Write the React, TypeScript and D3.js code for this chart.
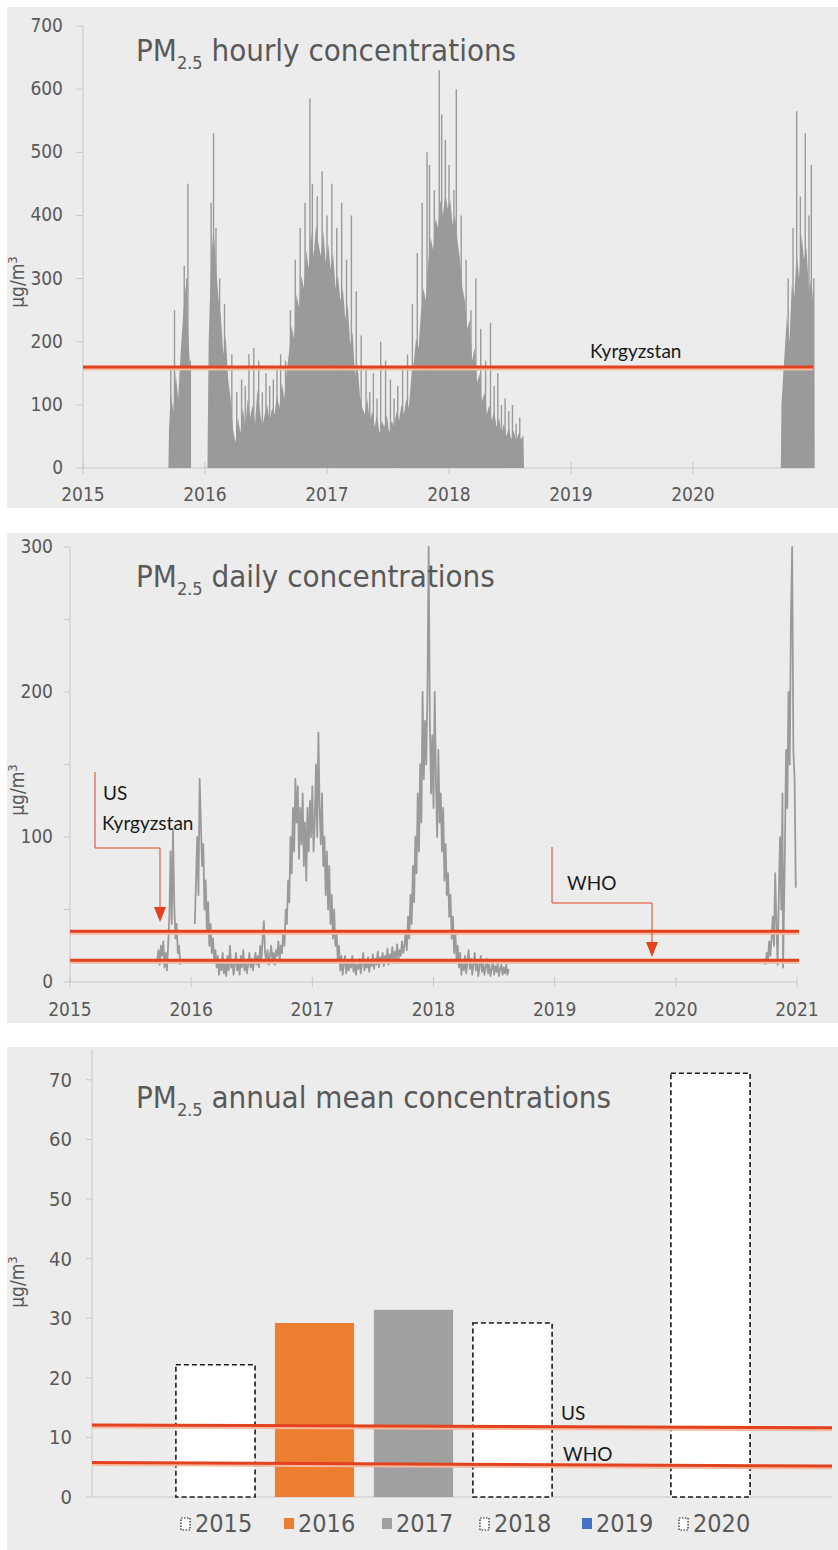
import React from 'react';
import * as d3 from 'd3';

// ---------------- DATA ----------------
const yearTicks = [2015, 2016, 2017, 2018, 2019, 2020, 2021];
const hourlyTicks = [0, 100, 200, 300, 400, 500, 600, 700];
const dailyTicks = [0, 50, 100, 150, 200, 250, 300];
const dailyLabelTicks = [0, 100, 200, 300];
const annualTicks = [0, 10, 20, 30, 40, 50, 60, 70];

// hourly PM2.5: dense core envelope per data block [decimal year, µg/m3]
const hourlyCore2015: [number, number][] = [
  [2015.70, 0], [2015.705, 60], [2015.72, 120], [2015.74, 90], [2015.76, 150], [2015.78, 110],
  [2015.80, 180], [2015.82, 240], [2015.84, 290], [2015.86, 220], [2015.88, 150], [2015.885, 0],
];
const hourlyCore2016to2018: [number, number][] = [
  [2016.02, 0], [2016.03, 200], [2016.05, 330], [2016.07, 380], [2016.09, 320], [2016.11, 270],
  [2016.13, 240], [2016.15, 180], [2016.17, 210], [2016.19, 140], [2016.21, 110], [2016.23, 60],
  [2016.25, 40], [2016.27, 80], [2016.29, 55], [2016.31, 95], [2016.33, 65], [2016.35, 110],
  [2016.37, 80], [2016.39, 100], [2016.41, 70], [2016.43, 125], [2016.45, 90], [2016.47, 65],
  [2016.49, 85], [2016.51, 100], [2016.53, 75], [2016.55, 95], [2016.57, 85], [2016.59, 115],
  [2016.61, 95], [2016.63, 135], [2016.65, 110], [2016.67, 155], [2016.69, 185], [2016.71, 225],
  [2016.73, 205], [2016.75, 275], [2016.77, 255], [2016.79, 305], [2016.81, 285], [2016.83, 345],
  [2016.85, 315], [2016.87, 375], [2016.89, 335], [2016.91, 385], [2016.93, 355], [2016.95, 335],
  [2016.97, 375], [2016.99, 325], [2017.01, 355], [2017.03, 315], [2017.05, 340], [2017.07, 285],
  [2017.09, 305], [2017.11, 265], [2017.13, 285], [2017.15, 235], [2017.17, 260], [2017.19, 195],
  [2017.21, 215], [2017.23, 145], [2017.25, 165], [2017.27, 115], [2017.29, 95], [2017.31, 85],
  [2017.33, 110], [2017.35, 75], [2017.37, 90], [2017.39, 65], [2017.41, 85], [2017.43, 55],
  [2017.45, 75], [2017.47, 65], [2017.49, 85], [2017.51, 55], [2017.53, 75], [2017.55, 65],
  [2017.57, 90], [2017.59, 75], [2017.61, 100], [2017.63, 85], [2017.65, 110], [2017.67, 95],
  [2017.69, 140], [2017.71, 165], [2017.73, 205], [2017.75, 190], [2017.77, 245], [2017.79, 285],
  [2017.81, 265], [2017.83, 325], [2017.85, 365], [2017.87, 345], [2017.89, 395], [2017.91, 380],
  [2017.93, 425], [2017.95, 400], [2017.97, 435], [2017.99, 410], [2018.01, 425], [2018.03, 385],
  [2018.05, 400], [2018.07, 360], [2018.09, 330], [2018.11, 285], [2018.13, 265], [2018.15, 220],
  [2018.17, 235], [2018.19, 170], [2018.21, 190], [2018.23, 135], [2018.25, 150], [2018.27, 105],
  [2018.29, 120], [2018.31, 85], [2018.33, 100], [2018.35, 75], [2018.37, 90], [2018.39, 65],
  [2018.41, 80], [2018.43, 55], [2018.45, 70], [2018.47, 50], [2018.49, 65], [2018.51, 45],
  [2018.53, 60], [2018.55, 42], [2018.57, 55], [2018.59, 45], [2018.61, 52], [2018.615, 0],
];
const hourlyCore2020: [number, number][] = [
  [2020.72, 0], [2020.725, 100], [2020.75, 180], [2020.77, 240], [2020.79, 200], [2020.81, 290],
  [2020.83, 270], [2020.85, 340], [2020.87, 300], [2020.89, 370], [2020.91, 330], [2020.93, 350],
  [2020.95, 280], [2020.97, 300], [2020.99, 250], [2020.995, 0],
];
// hourly peaks (individual hours sticking out of the dense block)
const hourlySpikes: [number, number][] = [
  [2015.72, 160], [2015.75, 250], [2015.83, 320], [2015.85, 300], [2015.86, 450], [2015.88, 170],
  [2016.05, 420], [2016.07, 530], [2016.09, 380], [2016.12, 300], [2016.16, 260], [2016.22, 180],
  [2016.26, 120], [2016.30, 140], [2016.33, 130], [2016.36, 180], [2016.40, 190], [2016.44, 170],
  [2016.47, 120], [2016.50, 150], [2016.53, 130], [2016.56, 140], [2016.59, 160], [2016.62, 180],
  [2016.66, 170], [2016.70, 250], [2016.74, 330], [2016.78, 380], [2016.82, 420],
  [2016.86, 585], [2016.88, 450], [2016.92, 430], [2016.96, 470], [2017.00, 400], [2017.04, 450],
  [2017.08, 380], [2017.12, 420], [2017.16, 330], [2017.20, 400], [2017.24, 280], [2017.28, 210],
  [2017.32, 160], [2017.35, 120], [2017.38, 150], [2017.41, 110], [2017.44, 200], [2017.48, 170],
  [2017.52, 140], [2017.55, 110], [2017.58, 130],
  [2017.62, 160], [2017.66, 180], [2017.70, 260], [2017.74, 340], [2017.78, 420], [2017.82, 500],
  [2017.84, 480], [2017.88, 440], [2017.92, 630], [2017.94, 560], [2017.97, 520], [2018.00, 480],
  [2018.04, 440], [2018.06, 600], [2018.10, 400], [2018.14, 330], [2018.18, 250], [2018.22, 300],
  [2018.26, 220], [2018.30, 170], [2018.34, 230], [2018.37, 130], [2018.40, 150], [2018.43, 100],
  [2018.46, 110], [2018.49, 90], [2018.52, 100], [2018.55, 70], [2018.58, 80],
  [2020.78, 300], [2020.82, 380], [2020.85, 565], [2020.88, 430], [2020.92, 530], [2020.95, 400],
  [2020.97, 480], [2020.99, 300],
];

// daily PM2.5 [decimal year, µg/m3], one array per continuous block
const daily2015: [number, number][] = [
  [2015.72, 15], [2015.73, 22], [2015.74, 12], [2015.75, 25], [2015.76, 18], [2015.77, 28],
  [2015.78, 10], [2015.79, 20], [2015.80, 8], [2015.81, 25], [2015.82, 45], [2015.83, 90],
  [2015.84, 40], [2015.85, 105], [2015.86, 55], [2015.87, 30], [2015.88, 40], [2015.89, 20],
  [2015.90, 25], [2015.91, 12],
];
const daily2016to2018: [number, number][] = [
  [2016.03, 40], [2016.04, 70], [2016.05, 100], [2016.06, 60], [2016.07, 140], [2016.08, 110],
  [2016.09, 80], [2016.10, 95], [2016.11, 50], [2016.12, 70], [2016.13, 35], [2016.14, 55],
  [2016.15, 25], [2016.16, 40], [2016.17, 20], [2016.18, 30], [2016.19, 15], [2016.20, 22],
  [2016.21, 10], [2016.22, 18], [2016.23, 5], [2016.24, 15], [2016.25, 8], [2016.26, 20],
  [2016.27, 6], [2016.28, 12], [2016.29, 4], [2016.30, 18], [2016.31, 8], [2016.32, 25],
  [2016.33, 10], [2016.34, 15], [2016.35, 5], [2016.36, 12], [2016.37, 20], [2016.38, 8],
  [2016.39, 15], [2016.40, 5], [2016.41, 18], [2016.42, 10], [2016.43, 22], [2016.44, 8],
  [2016.45, 14], [2016.46, 6], [2016.47, 12], [2016.48, 20], [2016.49, 10], [2016.50, 16],
  [2016.51, 8], [2016.52, 14], [2016.53, 20], [2016.54, 12], [2016.55, 18], [2016.56, 10],
  [2016.57, 25], [2016.58, 15], [2016.59, 30], [2016.60, 42], [2016.61, 20], [2016.62, 15],
  [2016.63, 22], [2016.64, 12], [2016.65, 18], [2016.66, 25], [2016.67, 15], [2016.68, 20],
  [2016.69, 12], [2016.70, 22], [2016.71, 18], [2016.72, 28], [2016.73, 15], [2016.74, 25],
  [2016.75, 20], [2016.76, 35], [2016.77, 25], [2016.78, 50], [2016.79, 40], [2016.80, 70],
  [2016.81, 55], [2016.82, 100], [2016.83, 75], [2016.84, 120], [2016.85, 90], [2016.86, 140],
  [2016.87, 110], [2016.88, 135], [2016.89, 85], [2016.90, 120], [2016.91, 95], [2016.92, 130],
  [2016.93, 80], [2016.94, 110], [2016.95, 70], [2016.96, 120], [2016.97, 90], [2016.98, 125],
  [2016.99, 100], [2017.00, 135], [2017.01, 90], [2017.02, 110], [2017.03, 150], [2017.04, 100],
  [2017.05, 172], [2017.06, 120], [2017.07, 95], [2017.08, 130], [2017.09, 80], [2017.10, 100],
  [2017.11, 60], [2017.12, 90], [2017.13, 50], [2017.14, 80], [2017.15, 40], [2017.16, 60],
  [2017.17, 30], [2017.18, 50], [2017.19, 25], [2017.20, 35], [2017.21, 15], [2017.22, 25],
  [2017.23, 8], [2017.24, 18], [2017.25, 5], [2017.26, 12], [2017.27, 18], [2017.28, 6],
  [2017.29, 15], [2017.30, 8], [2017.31, 14], [2017.32, 10], [2017.33, 18], [2017.34, 7],
  [2017.35, 15], [2017.36, 5], [2017.37, 12], [2017.38, 9], [2017.39, 16], [2017.40, 6],
  [2017.41, 13], [2017.42, 20], [2017.43, 8], [2017.44, 14], [2017.45, 10], [2017.46, 17],
  [2017.47, 7], [2017.48, 15], [2017.49, 11], [2017.50, 19], [2017.51, 9], [2017.52, 16],
  [2017.53, 12], [2017.54, 21], [2017.55, 10], [2017.56, 17], [2017.57, 13], [2017.58, 20],
  [2017.59, 11], [2017.60, 18], [2017.61, 14], [2017.62, 23], [2017.63, 12], [2017.64, 19],
  [2017.65, 15], [2017.66, 24], [2017.67, 13], [2017.68, 21], [2017.69, 16], [2017.70, 26],
  [2017.71, 14], [2017.72, 22], [2017.73, 18], [2017.74, 28], [2017.75, 20], [2017.76, 25],
  [2017.77, 35], [2017.78, 22], [2017.79, 45], [2017.80, 30], [2017.81, 60], [2017.82, 40],
  [2017.83, 80], [2017.84, 55], [2017.85, 100], [2017.86, 75], [2017.87, 130], [2017.88, 90],
  [2017.89, 150], [2017.90, 110], [2017.91, 200], [2017.92, 140], [2017.93, 180], [2017.94, 150],
  [2017.95, 200], [2017.96, 300], [2017.97, 180], [2017.98, 130], [2017.99, 170], [2018.00, 120],
  [2018.01, 200], [2018.02, 140], [2018.03, 100], [2018.04, 160], [2018.05, 110], [2018.06, 130],
  [2018.07, 90], [2018.08, 120], [2018.09, 70], [2018.10, 95], [2018.11, 60], [2018.12, 75],
  [2018.13, 45], [2018.14, 60], [2018.15, 30], [2018.16, 45], [2018.17, 20], [2018.18, 35],
  [2018.19, 15], [2018.20, 25], [2018.21, 10], [2018.22, 20], [2018.23, 5], [2018.24, 15],
  [2018.25, 8], [2018.26, 18], [2018.27, 6], [2018.28, 14], [2018.29, 22], [2018.30, 9],
  [2018.31, 16], [2018.32, 5], [2018.33, 12], [2018.34, 20], [2018.35, 8], [2018.36, 15],
  [2018.37, 4], [2018.38, 11], [2018.39, 18], [2018.40, 7], [2018.41, 13], [2018.42, 5],
  [2018.43, 10], [2018.44, 16], [2018.45, 6], [2018.46, 12], [2018.47, 4], [2018.48, 9],
  [2018.49, 14], [2018.50, 5], [2018.51, 11], [2018.52, 7], [2018.53, 13], [2018.54, 4],
  [2018.55, 9], [2018.56, 12], [2018.57, 5], [2018.58, 10], [2018.59, 6], [2018.60, 12],
  [2018.61, 5], [2018.62, 9],
];
const daily2020: [number, number][] = [
  [2020.74, 12], [2020.75, 20], [2020.76, 15], [2020.77, 28], [2020.78, 18], [2020.79, 30],
  [2020.80, 45], [2020.81, 25], [2020.82, 75], [2020.83, 40], [2020.84, 12], [2020.85, 60],
  [2020.86, 100], [2020.87, 50], [2020.88, 130], [2020.885, 10], [2020.90, 90], [2020.91, 160],
  [2020.92, 120], [2020.93, 200], [2020.94, 150], [2020.95, 250], [2020.96, 300], [2020.97, 160],
  [2020.98, 140], [2020.99, 65],
];

const hourlyLimitValue = 160; // Kyrgyzstan
const dailyLimitUS = 35; // US & Kyrgyzstan
const dailyLimitWHO = 15; // WHO
// annual guideline lines (as drawn: slightly sloping, left value -> right value)
const annualUS: [number, number] = [12.1, 11.6];
const annualWHO: [number, number] = [5.8, 5.2];

const annualYears = ['2015', '2016', '2017', '2018', '2019', '2020'];
const annualValues = [22.2, 29.2, 31.4, 29.2, 0, 71.1];
const annualDashed = [true, false, false, true, false, true];
const annualColors = ['#ffffff', '#ed7d31', '#a0a0a0', '#ffffff', '#4472c4', '#ffffff'];

// ---------------- STYLE ----------------
const FONT = "'Liberation Sans Narrow', 'DejaVu Sans Condensed', Roboto, sans-serif";
const ANN = "Lato, 'Open Sans', sans-serif";
const TXT = '#595959';
const AXIS = '#cdc6c6';
const RED = '#e3421f';
const HALO = '#f7b9a1';
const GRAY = '#9a9a9a';
const BG = '#ececec';

function Title({ x, y, text }: { x: number; y: number; text: string }) {
  return (
    <text x={x} y={y} fontFamily={FONT} fontSize={31} fill={TXT}>
      <tspan>PM</tspan>
      <tspan fontSize={18} dy={8}>2.5</tspan>
      <tspan dy={-8}>{' ' + text}</tspan>
    </text>
  );
}

function YLabel({ x, y }: { x: number; y: number }) {
  return (
    <text transform={`translate(${x},${y}) rotate(-90)`} textAnchor="middle" fontFamily={FONT} fontSize={19} fill={TXT}>
      μg/m<tspan fontSize={13} dy={-7}>3</tspan>
    </text>
  );
}

function GuideLine({ x1, x2, y1, y2 }: { x1: number; x2: number; y1: number; y2: number }) {
  return (
    <g>
      <line x1={x1} x2={x2} y1={y1 + 1.5} y2={y2 + 1.5} stroke={HALO} strokeWidth={4} />
      <line x1={x1} x2={x2} y1={y1} y2={y2} stroke={RED} strokeWidth={3} />
    </g>
  );
}

export default function App() {
  // ---- panel 1: hourly ----
  const x1 = d3.scaleLinear().domain([2015, 2021]).range([83, 815]);
  const y1 = d3.scaleLinear().domain([0, 700]).range([468, 26]);
  const area1 = d3.area<[number, number]>().x((d) => x1(d[0])).y0(y1(0)).y1((d) => y1(d[1]));

  // ---- panel 2: daily ----
  const x2 = d3.scaleLinear().domain([2015, 2021]).range([70, 797]);
  const y2 = d3.scaleLinear().domain([0, 300]).range([982, 547]);
  const line2 = d3.line<[number, number]>().x((d) => x2(d[0])).y((d) => y2(d[1]));

  // ---- panel 3: annual ----
  const x3 = d3.scaleBand<string>().domain(annualYears).range([166, 760]).paddingInner(0.2).paddingOuter(0.1);
  const y3 = d3.scaleLinear().domain([0, 75]).range([1497, 1050]);
  const axis3Left = 92;
  const axis3Right = 832;

  const legendX = [181, 284, 382, 480, 582, 679];

  return (
    <svg width={838} height={1550} style={{ position: 'absolute', left: 0, top: 0, background: '#fff' }}>
      {/* backgrounds */}
      <rect x={7} y={7} width={831} height={501} fill={BG} />
      <rect x={7} y={533} width={831} height={490} fill={BG} />
      <rect x={7} y={1047} width={831} height={503} fill={BG} />

      {/* ================= PANEL 1 ================= */}
      <g>
        <line x1={x1(2015)} x2={x1(2015)} y1={y1(0)} y2={y1(700)} stroke={AXIS} />
        <line x1={x1(2015)} x2={x1(2021)} y1={y1(0)} y2={y1(0)} stroke={AXIS} />
        {hourlyTicks.map((t) => (
          <g key={t}>
            <line x1={x1(2015) - 7} x2={x1(2015)} y1={y1(t)} y2={y1(t)} stroke={AXIS} />
            <text x={x1(2015) - 20} y={y1(t) + 6} textAnchor="end" fontFamily={FONT} fontSize={19} fill={TXT}>{t}</text>
          </g>
        ))}
        {yearTicks.slice(0, 6).map((t) => (
          <g key={t}>
            <line x1={x1(t)} x2={x1(t)} y1={y1(0) - 6} y2={y1(0) + 6} stroke={AXIS} />
            <text x={x1(t)} y={501} textAnchor="middle" fontFamily={FONT} fontSize={19} fill={TXT}>{t}</text>
          </g>
        ))}
        {[hourlyCore2015, hourlyCore2016to2018, hourlyCore2020].map((seg, i) => (
          <path key={i} d={area1(seg) || ''} fill={GRAY} />
        ))}
        {hourlySpikes.map((d, i) => (
          <line key={i} x1={x1(d[0])} x2={x1(d[0])} y1={y1(0)} y2={y1(d[1])} stroke={GRAY} strokeWidth={1.4} />
        ))}
        <GuideLine x1={x1(2015)} x2={x1(2021) - 2} y1={y1(hourlyLimitValue)} y2={y1(hourlyLimitValue)} />
        <text x={590} y={358} fontFamily={ANN} fontSize={19} fill="#1a1a1a">Kyrgyzstan</text>
        <Title x={136} y={61} text="hourly concentrations" />
        <YLabel x={24} y={282} />
      </g>

      {/* ================= PANEL 2 ================= */}
      <g>
        <line x1={x2(2015)} x2={x2(2015)} y1={y2(0)} y2={y2(300)} stroke={AXIS} />
        <line x1={x2(2015)} x2={x2(2021)} y1={y2(0)} y2={y2(0)} stroke={AXIS} />
        {dailyTicks.map((t) => (
          <line key={t} x1={x2(2015) - 6} x2={x2(2015)} y1={y2(t)} y2={y2(t)} stroke={AXIS} />
        ))}
        {dailyLabelTicks.map((t) => (
          <text key={t} x={x2(2015) - 17} y={y2(t) + 6} textAnchor="end" fontFamily={FONT} fontSize={19} fill={TXT}>{t}</text>
        ))}
        {yearTicks.map((t) => (
          <g key={t}>
            <line x1={x2(t)} x2={x2(t)} y1={y2(0) - 5} y2={y2(0) + 5} stroke={AXIS} />
            <text x={x2(t)} y={1016} textAnchor="middle" fontFamily={FONT} fontSize={19} fill={TXT}>{t}</text>
          </g>
        ))}
        {[daily2015, daily2016to2018, daily2020].map((seg, i) => (
          <path key={i} d={line2(seg) || ''} fill="none" stroke={GRAY} strokeWidth={1.8} strokeLinejoin="round" />
        ))}
        <GuideLine x1={x2(2015)} x2={x2(2021) + 2} y1={y2(dailyLimitUS)} y2={y2(dailyLimitUS)} />
        <GuideLine x1={x2(2015)} x2={x2(2021) + 2} y1={y2(dailyLimitWHO)} y2={y2(dailyLimitWHO)} />
        {/* annotation arrows */}
        <polyline points="95,772 95,848 160,848 160,908" fill="none" stroke={RED} strokeWidth={1} />
        <path d="M154,907 L166,907 L160,922 Z" fill={RED} />
        <polyline points="552,847 552,903 652,903 652,943" fill="none" stroke={RED} strokeWidth={1} />
        <path d="M646,942 L658,942 L652,957 Z" fill={RED} />
        <text x={103} y={800} fontFamily={ANN} fontSize={19} fill="#1a1a1a">US</text>
        <text x={102} y={830} fontFamily={ANN} fontSize={19} fill="#1a1a1a">Kyrgyzstan</text>
        <text x={567} y={890} fontFamily={ANN} fontSize={19} fill="#1a1a1a">WHO</text>
        <Title x={136} y={587} text="daily concentrations" />
        <YLabel x={24} y={790} />
      </g>

      {/* ================= PANEL 3 ================= */}
      <g>
        <line x1={axis3Left} x2={axis3Left} y1={y3(0)} y2={y3(75)} stroke={AXIS} />
        <line x1={axis3Left} x2={axis3Right} y1={y3(0)} y2={y3(0)} stroke={AXIS} />
        {annualTicks.map((t) => (
          <g key={t}>
            <line x1={axis3Left - 6} x2={axis3Left} y1={y3(t)} y2={y3(t)} stroke={AXIS} />
            <text x={axis3Left - 20} y={y3(t) + 7} textAnchor="end" fontFamily={FONT} fontSize={20} fill={TXT}>{t}</text>
          </g>
        ))}
        {annualYears.map((yr, i) =>
          annualValues[i] > 0 ? (
            <rect
              key={yr}
              x={x3(yr)}
              y={y3(annualValues[i])}
              width={x3.bandwidth()}
              height={y3(0) - y3(annualValues[i])}
              fill={annualColors[i]}
              stroke={annualDashed[i] ? '#1a1a1a' : 'none'}
              strokeWidth={annualDashed[i] ? 1.6 : 0}
              strokeDasharray={annualDashed[i] ? '5,3' : undefined}
            />
          ) : null
        )}
        <GuideLine x1={axis3Left} x2={axis3Right} y1={y3(annualUS[0])} y2={y3(annualUS[1])} />
        <GuideLine x1={axis3Left} x2={axis3Right} y1={y3(annualWHO[0])} y2={y3(annualWHO[1])} />
        <text x={561} y={1420} fontFamily={ANN} fontSize={19} fill="#1a1a1a">US</text>
        <text x={563} y={1461} fontFamily={ANN} fontSize={19} fill="#1a1a1a">WHO</text>
        {/* legend */}
        {annualYears.map((yr, i) => (
          <g key={yr}>
            <rect
              x={legendX[i]}
              y={1518}
              width={annualDashed[i] ? 9 : 10}
              height={annualDashed[i] ? 12 : 11}
              fill={annualColors[i]}
              stroke={annualDashed[i] ? '#1a1a1a' : 'none'}
              strokeWidth={1.2}
              strokeDasharray={annualDashed[i] ? '1.5,1.5' : undefined}
            />
            <text x={legendX[i] + 14} y={1532} fontFamily={FONT} fontSize={25} fill={TXT}>{yr}</text>
          </g>
        ))}
        <Title x={136} y={1108} text="annual mean concentrations" />
        <YLabel x={24} y={1282} />
      </g>
    </svg>
  );
}
